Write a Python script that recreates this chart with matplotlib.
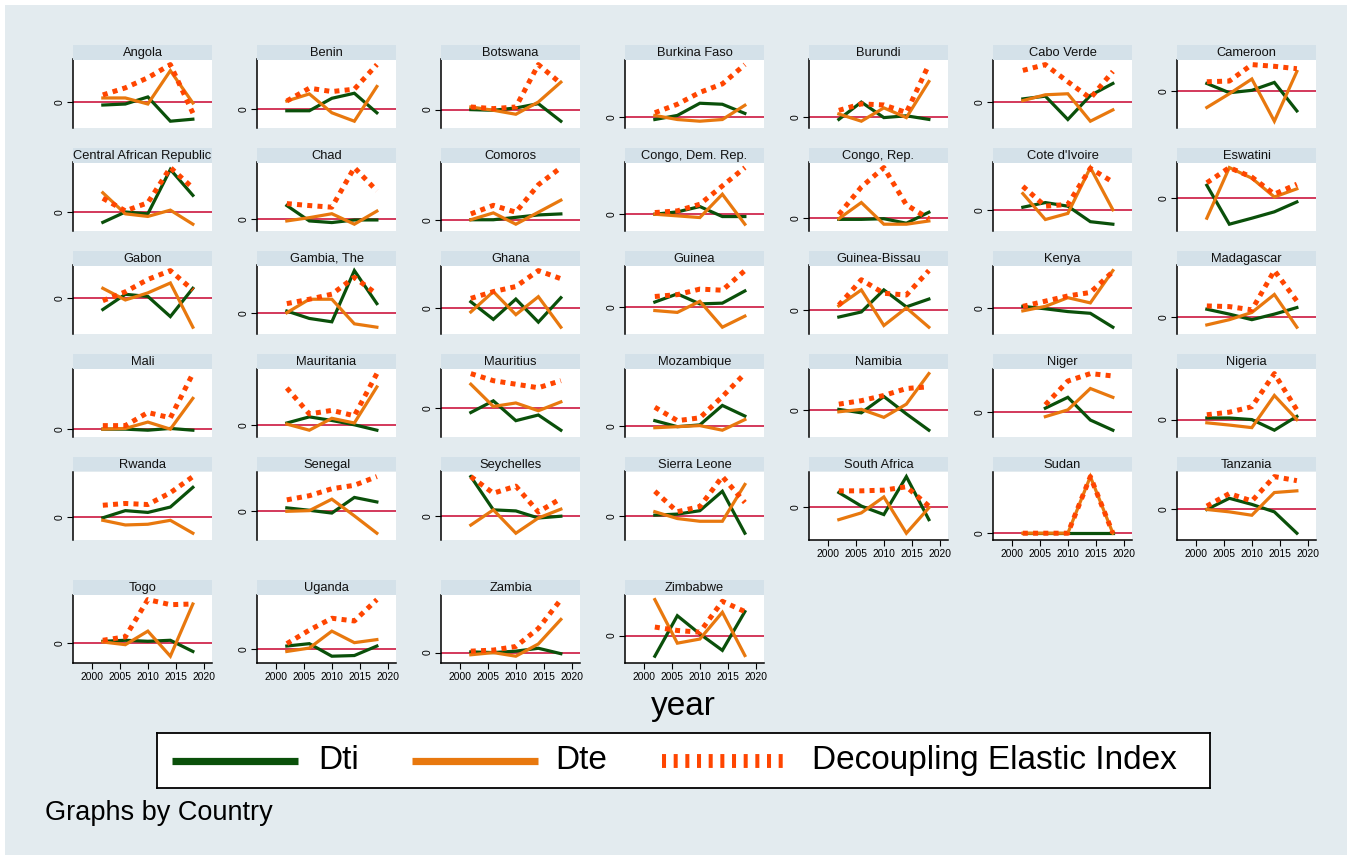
import matplotlib
matplotlib.use('Agg')
import matplotlib.pyplot as plt
import numpy as np
from matplotlib.patches import Rectangle

plt.rcParams['font.family'] = ['Liberation Sans', 'DejaVu Sans']

nan = float('nan')
years = [2002, 2006, 2010, 2014, 2018]
xticks = [2000, 2005, 2010, 2015, 2020]

countries = ['Angola', 'Benin', 'Botswana', 'Burkina Faso', 'Burundi', 'Cabo Verde', 'Cameroon',
             'Central African Republic', 'Chad', 'Comoros', 'Congo, Dem. Rep.', 'Congo, Rep.',
             "Cote d'Ivoire", 'Eswatini',
             'Gabon', 'Gambia, The', 'Ghana', 'Guinea', 'Guinea-Bissau', 'Kenya', 'Madagascar',
             'Mali', 'Mauritania', 'Mauritius', 'Mozambique', 'Namibia', 'Niger', 'Nigeria',
             'Rwanda', 'Senegal', 'Seychelles', 'Sierra Leone', 'South Africa', 'Sudan', 'Tanzania',
             'Togo', 'Uganda', 'Zambia', 'Zimbabwe']

dti = [
    [-0.09, -0.06, 0.15, -0.57, -0.51],
    [-0.05, -0.05, 0.32, 0.47, -0.11],
    [0.00, -0.02, 0.05, 0.18, -0.35],
    [-0.07, 0.05, 0.41, 0.38, 0.11],
    [-0.07, 0.41, -0.02, 0.03, -0.07],
    [0.10, 0.18, -0.50, 0.20, 0.55],
    [0.23, -0.04, 0.03, 0.26, -0.57],
    [-0.28, 0.00, -0.05, 1.15, 0.45],
    [0.40, -0.07, -0.12, -0.04, -0.04],
    [0.00, 0.00, 0.07, 0.14, 0.17],
    [0.00, 0.07, 0.23, -0.07, -0.07],
    [-0.05, -0.05, -0.03, -0.17, 0.17],
    [0.07, 0.20, 0.10, -0.33, -0.40],
    [0.37, -0.73, -0.56, -0.38, -0.10],
    [-0.32, 0.11, 0.05, -0.52, 0.28],
    [0.05, -0.17, -0.27, 1.25, 0.27],
    [0.18, -0.34, 0.26, -0.42, 0.30],
    [0.13, 0.35, 0.08, 0.10, 0.43],
    [-0.20, -0.05, 0.60, 0.10, 0.33],
    [0.05, -0.02, -0.10, -0.15, -0.55],
    [0.25, 0.10, -0.07, 0.10, 0.30],
    [0.00, 0.00, -0.03, 0.02, -0.03],
    [0.05, 0.22, 0.12, 0.00, -0.15],
    [-0.13, 0.20, -0.36, -0.20, -0.63],
    [0.15, -0.02, 0.03, 0.58, 0.28],
    [0.02, -0.08, 0.39, -0.11, -0.58],
    [nan, 0.12, 0.44, -0.23, -0.53],
    [0.05, 0.05, 0.00, -0.33, 0.10],
    [-0.02, 0.18, 0.13, 0.28, 0.83],
    [0.10, 0.03, -0.05, 0.40, 0.27],
    [1.12, 0.18, 0.15, -0.05, 0.00],
    [0.02, 0.05, 0.15, 0.72, -0.51],
    [0.43, 0.03, -0.22, 0.90, -0.37],
    [0.00, 0.00, 0.00, 0.00, 0.00],
    [0.00, 0.33, 0.15, -0.07, -0.70],
    [0.04, 0.07, 0.04, 0.07, -0.26],
    [0.08, 0.15, -0.22, -0.20, 0.08],
    [0.02, 0.00, 0.04, 0.12, -0.03],
    [-0.60, 0.58, 0.05, -0.43, 0.70],
]

dte = [
    [0.12, 0.12, -0.06, 0.93, -0.03],
    [0.24, 0.45, -0.11, -0.36, 0.67],
    [0.08, -0.02, -0.14, 0.23, 0.83],
    [0.05, -0.07, -0.12, -0.07, 0.35],
    [0.08, -0.12, 0.25, -0.02, 0.98],
    [0.05, 0.22, 0.25, -0.55, -0.22],
    [-0.47, -0.07, 0.36, -0.87, 0.58],
    [0.52, -0.05, -0.12, 0.05, -0.33],
    [-0.07, 0.03, 0.15, -0.17, 0.23],
    [0.00, 0.20, -0.13, 0.22, 0.57],
    [0.00, -0.05, -0.10, 0.60, -0.30],
    [-0.03, 0.47, -0.20, -0.20, -0.10],
    [0.45, -0.27, -0.10, 1.17, 0.00],
    [-0.56, 0.87, 0.57, 0.04, 0.27],
    [0.28, -0.05, 0.15, 0.43, -0.82],
    [0.00, 0.40, 0.40, -0.33, -0.43],
    [-0.12, 0.48, -0.20, 0.33, -0.57],
    [-0.10, -0.15, 0.15, -0.55, -0.25],
    [0.13, 0.60, -0.45, 0.07, -0.50],
    [-0.08, 0.05, 0.30, 0.15, 1.08],
    [-0.23, -0.07, 0.15, 0.70, -0.30],
    [0.00, 0.02, 0.20, 0.00, 0.87],
    [0.02, -0.15, 0.18, 0.05, 1.05],
    [0.67, 0.04, 0.14, -0.08, 0.17],
    [-0.05, -0.02, 0.01, -0.12, 0.18],
    [-0.05, 0.02, -0.21, 0.17, 1.05],
    [nan, -0.13, 0.07, 0.70, 0.44],
    [-0.10, -0.17, -0.25, 0.75, 0.00],
    [-0.09, -0.22, -0.20, -0.09, -0.45],
    [0.00, 0.02, 0.35, -0.13, -0.63],
    [-0.25, 0.18, -0.48, -0.05, 0.20],
    [0.12, -0.08, -0.16, -0.16, 0.92],
    [-0.37, -0.17, 0.30, -0.77, -0.02],
    [0.00, 0.00, 0.00, 1.60, 0.00],
    [0.00, -0.07, -0.17, 0.50, 0.55],
    [0.02, -0.06, 0.34, -0.40, 1.14],
    [-0.08, 0.02, 0.52, 0.18, 0.27],
    [-0.06, 0.00, -0.10, 0.24, 0.92],
    [1.05, -0.22, -0.10, 0.68, -0.58],
]

dei = [
    [0.21, 0.42, 0.72, 1.11, -0.33],
    [0.24, 0.62, 0.52, 0.59, 1.32],
    [0.08, 0.03, 0.08, 1.36, 0.79],
    [0.13, 0.38, 0.73, 0.98, 1.55],
    [0.18, 0.36, 0.33, 0.12, 1.45],
    [0.93, 1.10, 0.60, 0.12, 0.90],
    [0.28, 0.30, 0.78, 0.73, 0.66],
    [0.37, 0.03, 0.25, 1.20, 0.65],
    [0.46, 0.40, 0.35, 1.56, 0.85],
    [0.17, 0.42, 0.22, 1.02, 1.52],
    [0.05, 0.10, 0.30, 0.85, 1.40],
    [0.10, 0.95, 1.55, 0.40, -0.03],
    [0.65, 0.10, 0.15, 1.15, 0.77],
    [0.44, 0.87, 0.60, 0.12, 0.40],
    [-0.07, 0.18, 0.53, 0.78, 0.23],
    [0.27, 0.40, 0.55, 1.05, 0.55],
    [0.28, 0.48, 0.63, 1.10, 0.86],
    [0.28, 0.33, 0.48, 0.45, 0.98],
    [0.15, 0.90, 0.50, 0.45, 1.17],
    [0.05, 0.20, 0.35, 0.45, 1.05],
    [0.35, 0.33, 0.23, 1.43, 0.50],
    [0.10, 0.10, 0.47, 0.32, 1.57],
    [1.02, 0.30, 0.40, 0.25, 1.42],
    [0.97, 0.77, 0.67, 0.57, 0.77],
    [0.53, 0.15, 0.23, 0.83, 1.48],
    [0.17, 0.27, 0.42, 0.62, 0.67],
    [nan, 0.22, 0.92, 1.14, 1.07],
    [0.15, 0.23, 0.40, 1.43, 0.30],
    [0.33, 0.38, 0.35, 0.68, 1.13],
    [0.33, 0.45, 0.65, 0.75, 1.00],
    [1.12, 0.65, 0.85, 0.12, 0.50],
    [0.72, 0.12, 0.27, 1.15, 0.39],
    [0.48, 0.48, 0.50, 0.60, 0.03],
    [0.00, 0.00, 0.00, 1.60, 0.00],
    [0.10, 0.47, 0.25, 0.97, 0.85],
    [0.07, 0.17, 1.27, 1.12, 1.14],
    [0.15, 0.55, 0.90, 0.82, 1.45],
    [0.04, 0.07, 0.17, 0.67, 1.47],
    [0.25, 0.15, 0.10, 1.00, 0.70],
]

series_labels = ['Dti', 'Dte', 'Decoupling Elastic Index']

BG = '#e3ebef'
STRIP = '#d4e1e9'
GREEN = '#0a500a'
ORANGE = '#e8780e'
RED = '#ff4500'
ZERO = '#cc1840'

W, H = 1352, 860
fig = plt.figure(figsize=(W / 100, H / 100), dpi=100)
fig.patch.set_facecolor('white')


def fx(px):
    return px / W


def fy(py):
    return 1 - py / H


fig.patches.append(Rectangle((fx(5), fy(855)), (W - 10) / W, (H - 10) / H,
                             transform=fig.transFigure, facecolor=BG,
                             edgecolor='none', zorder=-10))

ncol = 7
col_x0 = 73
col_pitch = 184
pw = 139
row_tops = [45, 148, 251, 354, 457, 580]
strip_h = 14.5
plot_h = 68.5
n = len(countries)

for i, name in enumerate(countries):
    r, c = divmod(i, ncol)
    x0 = col_x0 + c * col_pitch
    top = row_tops[r]
    fig.patches.append(Rectangle((fx(x0), fy(top + strip_h)), pw / W, strip_h / H,
                                 transform=fig.transFigure, facecolor=STRIP,
                                 edgecolor='none'))
    fig.text(fx(x0 + pw / 2), fy(top + strip_h / 2 + 0.5), name, ha='center',
             va='center', fontsize=9.3, color='#111111')
    ax = fig.add_axes([fx(x0), fy(top + strip_h + plot_h), pw / W, plot_h / H])
    ax.set_facecolor('white')
    a = np.array(dti[i], dtype=float)
    b = np.array(dte[i], dtype=float)
    d = np.array(dei[i], dtype=float)
    allv = np.concatenate([a, b, d, [0.0]])
    lo, hi = np.nanmin(allv), np.nanmax(allv)
    rng = hi - lo
    ax.set_ylim(lo - 0.12 * rng, hi + 0.09 * rng)
    ax.set_xlim(1996.7, 2021.4)
    ax.axhline(0, color=ZERO, lw=1.2, zorder=1)
    ax.plot(years, a, color=GREEN, lw=2.3, zorder=2, solid_joinstyle='miter')
    ax.plot(years, b, color=ORANGE, lw=2.3, zorder=3, solid_joinstyle='miter')
    ax.plot(years, d, color=RED, lw=3.6, linestyle=(0, (1.0, 1.05)),
            dash_capstyle='butt', zorder=4)
    for s in ['top', 'right']:
        ax.spines[s].set_visible(False)
    ax.spines['left'].set_color('black')
    ax.spines['left'].set_linewidth(1.1)
    bottom = (i + ncol >= n)
    ax.set_yticks([0])
    ax.set_yticklabels(['0'], rotation=90, va='center', fontsize=7.5)
    ax.tick_params(axis='y', length=4, width=0.8, pad=2)
    if bottom:
        ax.spines['bottom'].set_color('black')
        ax.spines['bottom'].set_linewidth(1.1)
        ax.set_xticks(xticks)
        ax.set_xticklabels([str(t) for t in xticks], fontsize=7.4)
        ax.tick_params(axis='x', length=4, width=0.8, pad=2.5)
    else:
        ax.spines['bottom'].set_visible(False)
        ax.set_xticks([])

fig.text(fx(683), fy(706), 'year', ha='center', va='center', fontsize=24)

# legend box
lax = fig.add_axes([fx(157), fy(788), (1210 - 157) / W, (788 - 733) / H])
lax.set_xlim(157, 1210)
lax.set_ylim(0, 1)
lax.set_xticks([])
lax.set_yticks([])
lax.set_facecolor('white')
for s in lax.spines.values():
    s.set_color('black')
    s.set_linewidth(1.3)
key_x = [(172, 298), (412, 538), (662, 786)]
text_x = [318, 555, 812]
styles = [dict(color=GREEN, lw=5.2, solid_capstyle='butt'),
          dict(color=ORANGE, lw=5.2, solid_capstyle='butt'),
          dict(color=RED, lw=10.0, linestyle=(0, (0.29, 0.55)), dash_capstyle='butt')]
for (k0, k1), tx, lab, st in zip(key_x, text_x, series_labels, styles):
    lax.plot([k0, k1], [0.5, 0.5], **st)
    lax.text(tx, 0.5, lab, ha='left', va='center', fontsize=24)

fig.text(fx(45), fy(813), 'Graphs by Country', ha='left', va='center', fontsize=19.5)

fig.savefig('out.png', dpi=100, facecolor=fig.get_facecolor())
